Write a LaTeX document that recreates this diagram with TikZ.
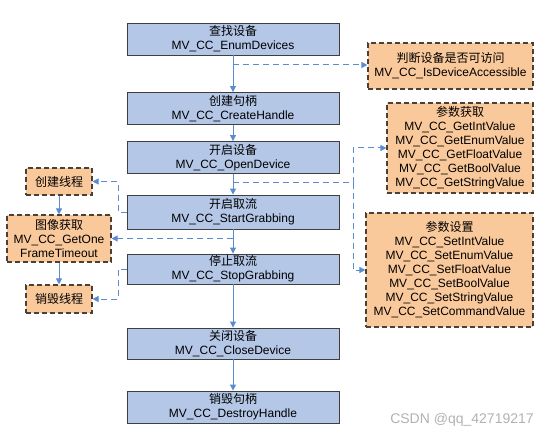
\documentclass[tikz,border=0pt]{standalone}
\usepackage{fontspec}
\setmainfont{Liberation Sans}
\newfontfamily\cjk{Noto Sans CJK SC}
\usetikzlibrary{arrows.meta}
\definecolor{bfill}{HTML}{B4C7E7}
\definecolor{ofill}{HTML}{FAC99B}
\definecolor{aline}{HTML}{5B8BD0}
\definecolor{bdraw}{HTML}{3F3F3F}
\definecolor{odraw}{HTML}{4A4036}
\begin{document}
\begin{tikzpicture}[x=1pt,y=-1pt,
  every node/.style={font=\fontsize{12}{14}\selectfont, align=center, inner sep=0pt},
  mainbox/.style={draw=bdraw, line width=0.9pt, fill=bfill, minimum width=212pt, minimum height=32pt},
  sidebox/.style={draw=odraw, line width=1.1pt, dashed, dash pattern=on 5pt off 3pt, fill=ofill},
  flow/.style={draw=aline, line width=1pt, -{Triangle[width=6pt,length=6pt]}},
  dflow/.style={draw=aline, line width=1pt, dash pattern=on 6pt off 4pt, -{Triangle[width=6pt,length=6pt]}},
  dline/.style={draw=aline, line width=1pt, dash pattern=on 6pt off 4pt}]
\useasboundingbox[fill=white] (0,0) rectangle (553,438);

\node[mainbox] (b1) at (233,39) {{\cjk 查找设备}\\MV\_CC\_EnumDevices};
\node[mainbox] (b2) at (233,108.5) {{\cjk 创建句柄}\\MV\_CC\_CreateHandle};
\node[mainbox] (b3) at (233,157.5) {{\cjk 开启设备}\\MV\_CC\_OpenDevice};
\node[mainbox, minimum height=34pt] (b4) at (233,212) {{\cjk 开启取流}\\MV\_CC\_StartGrabbing};
\node[mainbox, minimum height=30pt] (b5) at (233,269) {{\cjk 停止取流}\\MV\_CC\_StopGrabbing};
\node[mainbox, minimum height=31pt] (b6) at (233,343.5) {{\cjk 关闭设备}\\MV\_CC\_CloseDevice};
\node[mainbox] (b7) at (233,407) {{\cjk 销毁句柄}\\MV\_CC\_DestroyHandle};

\node[sidebox, minimum width=165pt, minimum height=46pt] (judge) at (450.5,66) {{\cjk 判断设备是否可访问}\\MV\_CC\_IsDeviceAccessible};
\node[sidebox, minimum width=146pt, minimum height=90pt] (pget) at (460,148) {{\cjk 参数获取}\\MV\_CC\_GetIntValue\\MV\_CC\_GetEnumValue\\MV\_CC\_GetFloatValue\\MV\_CC\_GetBoolValue\\MV\_CC\_GetStringValue};
\node[sidebox, minimum width=167pt, minimum height=114pt] (pset) at (449.5,270) {{\cjk 参数设置}\\MV\_CC\_SetIntValue\\MV\_CC\_SetEnumValue\\MV\_CC\_SetFloatValue\\MV\_CC\_SetBoolValue\\MV\_CC\_SetStringValue\\MV\_CC\_SetCommandValue};

\node[sidebox, minimum width=66pt, minimum height=27pt] (tcreate) at (59,181.5) {\cjk 创建线程};
\node[sidebox, minimum width=104pt, minimum height=47pt] (img) at (59,238.5) {{\cjk 图像获取}\\MV\_CC\_GetOne\\FrameTimeout};
\node[sidebox, minimum width=66pt, minimum height=28pt] (tdestroy) at (59,299) {\cjk 销毁线程};

\node[text=black!30, font=\fontsize{14}{16}\selectfont] (wm) at (462,420) {CSDN @qq\_42719217};

% main flow
\draw[flow] (b1) -- (b2);
\draw[flow] (b2) -- (b3);
\draw[flow] (b3) -- (b4);
\draw[flow] (b4) -- (b5);
\draw[flow] (b5) -- (b6);
\draw[flow] (b6) -- (b7);

% left solid
\draw[flow] (tcreate) -- (img);
\draw[flow] (img) -- (tdestroy);

% right dashed
\coordinate (j0) at (233,65);
\draw[dflow] (j0) -- (judge.west |- j0);
\coordinate (p0) at (233,183);
\coordinate (p1) at (353,183);
\draw[dline] (p0) -- (p1);
\draw[dflow] (p1) |- (pget.west);
\draw[dflow] (p1) |- (pset.west);

% left dashed
\coordinate (l1) at (118,212);
\draw[dflow] (b4.west) -- (l1) |- (tcreate.east);
\coordinate (i0) at (233,238.5);
\draw[dflow] (i0) -- (img.east);
\coordinate (l2) at (118,269);
\draw[dflow] (b5.west) -- (l2) |- (tdestroy.east);
\end{tikzpicture}
\end{document}
